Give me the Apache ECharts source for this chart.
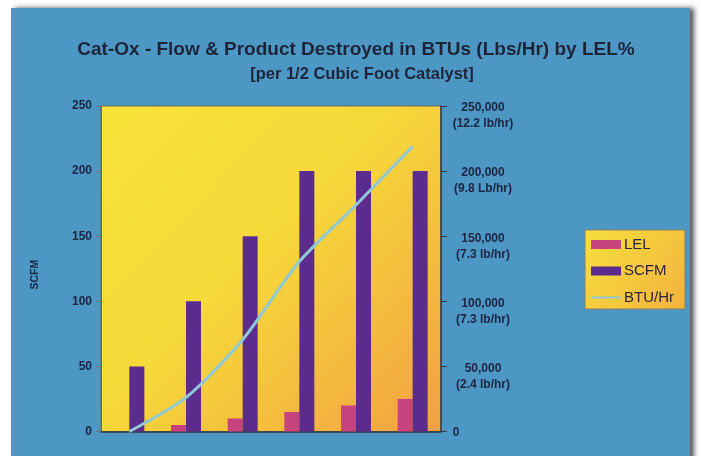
<!DOCTYPE html>
<html>
<head>
<meta charset="utf-8">
<script src="https://cdn.jsdelivr.net/npm/echarts@6/dist/echarts.min.js"></script>
<style>
  html, body { margin: 0; padding: 0; background: #ffffff; }
  #chart { width: 701px; height: 456px; }
</style>
</head>
<body>
<div id="chart"></div>
<script>
  // LEL % steps (x axis, labels hidden in the original)
  var categories = ['0%', '5%', '10%', '15%', '20%', '25%']
  var lelValues = [0, 5, 10, 15, 20, 25]
  var scfmValues = [50, 100, 150, 200, 200, 200]
  var btuValues = [0, 26000, 70500, 130500, 174000, 219000]

  var leftTicks = [0, 50, 100, 150, 200, 250]
  var rightTickLabels = {
    0: '0',
    50000: '(2.4 lb/hr)',
    100000: '(7.3 lb/hr)',
    150000: '(7.3 lb/hr)',
    200000: '(9.8 Lb/hr)',
    250000: '(12.2 lb/hr)'
  }

  var textColor = '#1c2440'
  var font = 'Liberation Sans, Arial, sans-serif'

  var chart = echarts.init(document.getElementById('chart'))

  chart.setOption({
    backgroundColor: '#ffffff',
    animation: false,
    graphic: [{
      type: 'rect',
      z: -10,
      silent: true,
      shape: {x: 11, y: 8, width: 679, height: 470},
      style: {
        fill: '#4d97c5',
        shadowColor: 'rgba(40,30,30,0.75)',
        shadowBlur: 5,
        shadowOffsetX: 4,
        shadowOffsetY: 0
      }
    }],
    title: [{
      text: 'Cat-Ox - Flow & Product Destroyed in BTUs (Lbs/Hr) by LEL%',
      left: 351,
      textAlign: 'center',
      top: 35,
      textStyle: {fontFamily: font, fontSize: 19, fontWeight: 'bold', color: '#1e2438'}
    }, {
      text: '[per 1/2 Cubic Foot Catalyst]',
      left: 357,
      textAlign: 'center',
      top: 61,
      textStyle: {fontFamily: font, fontSize: 16.5, fontWeight: 'bold', color: '#1e2438'}
    }],
    legend: {
      orient: 'vertical',
      left: 585,
      top: 230,
      padding: [7, 11, 4, 5],
      itemGap: 11.5,
      itemWidth: 30,
      itemHeight: 9,
      backgroundColor: {
        type: 'linear', x: 0, y: 0, x2: 1, y2: 1,
        colorStops: [{offset: 0, color: '#f6e03c'}, {offset: 1, color: '#f3b23e'}]
      },
      borderColor: '#8a8060',
      borderWidth: 1,
      textStyle: {fontFamily: font, fontSize: 15, color: '#2a2540', padding: [0, 0, 0, -2]},
      data: [
        {name: 'LEL', icon: 'rect'},
        {name: 'SCFM', icon: 'rect'},
        {name: 'BTU/Hr', itemStyle: {opacity: 0}}
      ]
    },
    grid: {
      left: 101,
      right: 260,
      top: 106,
      bottom: 24,
      show: true,
      borderColor: '#6a6a5a',
      borderWidth: 1,
      backgroundColor: {
        type: 'linear', x: 0, y: 0, x2: 1, y2: 1,
        colorStops: [
          {offset: 0, color: '#f7e33a'},
          {offset: 0.45, color: '#f6d93a'},
          {offset: 1, color: '#f2a042'}
        ]
      }
    },
    xAxis: {
      type: 'category',
      data: categories,
      axisLine: {show: true, lineStyle: {color: '#333a44', width: 1.5}},
      axisTick: {show: false},
      axisLabel: {show: false}
    },
    yAxis: [{
      type: 'value',
      min: leftTicks[0],
      max: leftTicks[leftTicks.length - 1],
      interval: 50,
      name: 'SCFM',
      nameLocation: 'middle',
      nameGap: 60,
      nameRotate: 90,
      nameTextStyle: {fontFamily: font, fontSize: 10.5, fontWeight: 'bold', color: textColor, padding: [0, 12, 0, 0]},
      axisLine: {show: true, lineStyle: {color: '#6a6a5a'}},
      axisTick: {show: true, length: 5, lineStyle: {color: '#6a7080'}},
      splitLine: {show: false},
      axisLabel: {
        margin: 9,
        fontFamily: font,
        fontSize: 12,
        fontWeight: 'bold',
        color: textColor
      }
    }, {
      type: 'value',
      min: 0,
      max: 250000,
      interval: 50000,
      position: 'right',
      axisLine: {show: true, lineStyle: {color: '#333a44', width: 1.5}},
      axisTick: {show: true, length: 6, lineStyle: {color: '#333a44'}},
      splitLine: {show: false},
      axisLabel: {
        margin: 42,
        align: 'center',
        padding: [20, 0, 0, 0],
        fontFamily: font,
        fontSize: 12,
        fontWeight: 'bold',
        color: textColor,
        lineHeight: 16,
        formatter: function (v) {
          if (v === 0) {
            return '{z|0}'
          }
          return echarts.format.addCommas(v) + '\n' + rightTickLabels[v]
        },
        rich: {
          z: {fontFamily: font, fontSize: 12, fontWeight: 'bold', color: textColor, lineHeight: 16, padding: [0, 54, 17, 0]}
        }
      }
    }],
    series: [{
      name: 'LEL',
      type: 'bar',
      yAxisIndex: 0,
      data: lelValues,
      barWidth: 15,
      barGap: '0%',
      itemStyle: {color: '#c6437d'}
    }, {
      name: 'SCFM',
      type: 'bar',
      yAxisIndex: 0,
      data: scfmValues,
      barWidth: 15,
      barGap: '0%',
      itemStyle: {color: '#5b2c8e'}
    }, {
      name: 'BTU/Hr',
      type: 'line',
      yAxisIndex: 1,
      data: btuValues,
      smooth: 0.25,
      symbol: 'none',
      showSymbol: false,
      lineStyle: {color: '#8fc9d6', width: 3},
      itemStyle: {color: '#8fc9d6'}
    }]
  })
</script>
</body>
</html>
